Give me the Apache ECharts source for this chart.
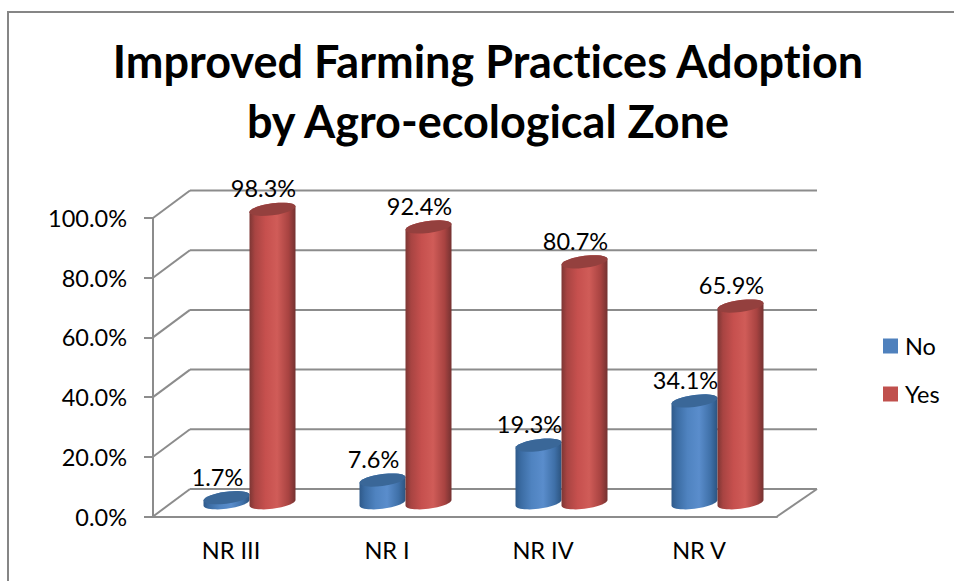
<!DOCTYPE html>
<html style="height: 100%">
<head>
  <meta charset="utf-8">
  <script src="https://cdn.jsdelivr.net/npm/echarts@6/dist/echarts.min.js"></script>
  <style>text { font-variant-ligatures: none; }</style>
</head>
<body style="height: 100%; margin: 0; background: #fff">
<div id="container" style="width: 954px; height: 581px"></div>
<script type="text/javascript">
var categories = ['NR III', 'NR I', 'NR IV', 'NR V'];
var noValues = [1.7, 7.6, 19.3, 34.1];
var yesValues = [98.3, 92.4, 80.7, 65.9];
var yTicks = [0, 20, 40, 60, 80, 100];

var FONT = 'Lato';
var labelSize = 23.5;
// fake 3d: how far the back wall sits from the front plane, in px
var depthX = 37, depthY = -27.5, depthEnd = 40;
var barShare = 46 / 156;

var grey = '#8c8c8c';
var blueBody = [[0, '#2f5a8a'], [0.12, '#3b6ca3'], [0.35, '#4f83c0'], [0.6, '#5a8dcc'], [0.85, '#3f70a8'], [1, '#2c5480']];
var redBody = [[0, '#7d3634'], [0.12, '#a84442'], [0.35, '#c6504e'], [0.6, '#d05c58'], [0.85, '#a84341'], [1, '#743231']];

function ellipsePts(cx, cy, rx, ry, from, to) {
  var pts = [];
  for (var i = 0; i <= 24; i++) {
    var t = from + (to - from) * i / 24;
    pts.push([cx + rx * Math.cos(t), cy + ry * Math.sin(t) - 0.124 * rx * Math.cos(t)]);
  }
  return pts;
}

function cylinder(side, body, cap) {
  return function (params, api) {
    var bottom = api.coord([api.value(0), 0]);
    var top = api.coord([api.value(0), api.value(1)]);
    var band = api.size([1, 0])[0];
    var w = band * barShare;
    var cx = bottom[0] + side * w / 2 + depthX / 2;
    var yb = bottom[1] + depthY / 2;
    var yt = top[1] + depthY / 2;
    var rx = w / 2, ry = 6;
    var outline = ellipsePts(cx, yb, rx, ry, 0, Math.PI).concat(ellipsePts(cx, yt, rx, ry, Math.PI, 2 * Math.PI));
    return {
      type: 'group',
      children: [
        {
          type: 'polygon',
          shape: { points: outline },
          style: { fill: { type: 'linear', x: 0, y: 0, x2: 1, y2: 0, colorStops: body.map(function (s) { return { offset: s[0], color: s[1] }; }) } }
        },
        {
          type: 'polygon',
          shape: { points: ellipsePts(cx, yt, rx, ry, 0, 2 * Math.PI) },
          style: { fill: cap }
        }
      ]
    };
  };
}

function valueLabel(side) {
  return function (params, api) {
    var top = api.coord([api.value(0), api.value(1)]);
    var w = api.size([1, 0])[0] * barShare;
    return {
      type: 'text',
      style: {
        text: api.value(1).toFixed(1) + '%',
        x: top[0] + side * w / 2 + depthX / 2 - 9,
        y: top[1] + depthY / 2 - 21,
        fill: '#000',
        font: labelSize + 'px ' + FONT,
        align: 'center',
        verticalAlign: 'middle'
      }
    };
  };
}

function renderWall(params, api) {
  var v = api.coord([0, api.value(0)]);
  var cs = params.coordSys;
  return {
    type: 'group',
    children: [
      { type: 'line', shape: { x1: cs.x + depthX, y1: v[1] + depthY, x2: cs.x + cs.width + depthEnd, y2: v[1] + depthY }, style: { stroke: grey, lineWidth: 2 } },
      { type: 'line', shape: { x1: cs.x, y1: v[1], x2: cs.x + depthX, y2: v[1] + depthY }, style: { stroke: grey, lineWidth: 2 } }
    ]
  };
}

function renderFloorEdge(params, api) {
  var v = api.coord([0, api.value(0)]);
  var cs = params.coordSys;
  return { type: 'line', shape: { x1: cs.x + cs.width, y1: v[1], x2: cs.x + cs.width + depthEnd, y2: v[1] + depthY }, style: { stroke: grey, lineWidth: 2 } };
}

function pairs(vals) {
  return vals.map(function (v, i) { return [i, v]; });
}

var myChart = echarts.init(document.getElementById('container'), null, { renderer: 'svg' });

var option = {
  animation: false,
  backgroundColor: '#fff',
  textStyle: { fontFamily: FONT },
  graphic: [{
    type: 'polyline',
    shape: { points: [[8, 590], [8, 12], [960, 12]] },
    style: { stroke: '#868686', lineWidth: 2, fill: null }
  }],
  title: {
    text: 'Improved Farming Practices Adoption\nby Agro-ecological Zone',
    left: 483,
    top: 26,
    textAlign: 'center',
    textStyle: { fontFamily: FONT, fontWeight: 'bold', fontSize: 45, lineHeight: 60, color: '#000' }
  },
  legend: {
    data: ['No', 'Yes'],
    orient: 'vertical',
    left: 883,
    top: 334,
    padding: 0,
    icon: 'rect',
    itemWidth: 15,
    itemHeight: 15,
    itemGap: 24,
    textStyle: { fontFamily: FONT, fontSize: labelSize, color: '#000', padding: [0, 0, 0, 2] }
  },
  grid: { left: 153, top: 218, width: 624, height: 298.5 },
  xAxis: {
    type: 'category',
    data: categories,
    axisLine: { lineStyle: { color: grey, width: 2 } },
    axisTick: { length: 8, lineStyle: { color: grey, width: 2 } },
    axisLabel: { fontFamily: FONT, fontSize: labelSize, color: '#000', margin: 21 }
  },
  yAxis: {
    type: 'value',
    min: 0,
    max: 100,
    interval: 20,
    splitLine: { show: false },
    axisLine: { show: true, lineStyle: { color: grey, width: 2 } },
    axisTick: { show: true, length: 9, lineStyle: { color: grey, width: 2 } },
    axisLabel: {
      fontFamily: FONT, fontSize: labelSize, color: '#000', margin: 26, padding: [2, 0, 0, 0],
      formatter: function (v) { return v.toFixed(1) + '%'; }
    }
  },
  series: [
    { type: 'custom', name: 'walls', z: 1, silent: true, data: yTicks.map(function (t) { return [t]; }), encode: { y: 0 }, renderItem: renderWall },
    { type: 'custom', name: 'floor', z: 1, silent: true, data: [[yTicks[0]]], encode: { y: 0 }, renderItem: renderFloorEdge },
    { type: 'custom', name: 'No', z: 3, data: pairs(noValues), encode: { x: 0, y: 1 }, itemStyle: { color: '#4f81bd' }, renderItem: cylinder(-1, blueBody, '#3a6798') },
    { type: 'custom', name: 'Yes', z: 4, data: pairs(yesValues), encode: { x: 0, y: 1 }, itemStyle: { color: '#c0504d' }, renderItem: cylinder(1, redBody, '#94403e') },
    { type: 'custom', name: 'noLabels', z: 5, data: pairs(noValues), encode: { x: 0, y: 1 }, renderItem: valueLabel(-1) },
    { type: 'custom', name: 'yesLabels', z: 5, data: pairs(yesValues), encode: { x: 0, y: 1 }, renderItem: valueLabel(1) }
  ]
};

myChart.setOption(option);
</script>
</body>
</html>
